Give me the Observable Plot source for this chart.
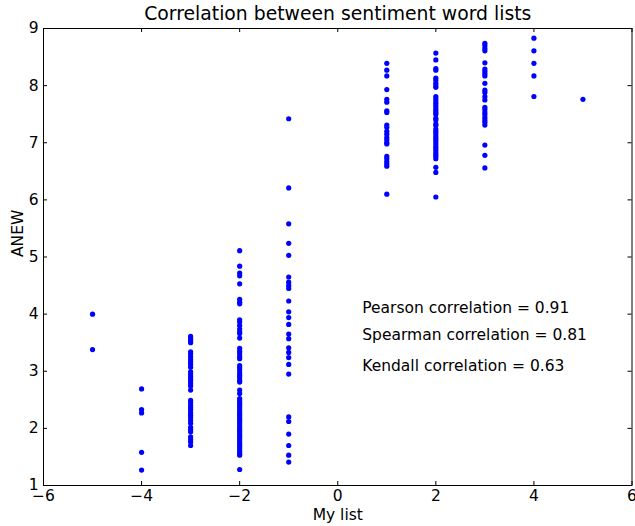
<!DOCTYPE html>
<html>
<head>
<meta charset="utf-8">
<script src="https://cdn.jsdelivr.net/npm/d3@7"></script>
<script src="https://cdn.jsdelivr.net/npm/@observablehq/plot@0.6"></script>
<style>
  html, body { margin: 0; padding: 0; background: #fff; overflow: hidden; }
</style>
</head>
<body>
<div id="chart"></div>
<script>
// ---- Data ----
const chartTitle = "Correlation between sentiment word lists";
const xLabel = "My list";
const yLabel = "ANEW";

const xTicks = [-6, -4, -2, 0, 2, 4, 6];
const yTicks = [1, 2, 3, 4, 5, 6, 7, 8, 9];

// ANEW values for each "My list" score
const anewMinus5 = [4.00, 3.38];
const anewMinus4 = [2.69, 2.33, 2.27, 1.58, 1.27];
const anewMinus3 = [3.61, 3.57, 3.53, 3.50, 3.34, 3.30, 3.25, 3.20, 3.16, 3.12, 3.07,
  2.99, 2.95, 2.91, 2.87, 2.83, 2.78, 2.74, 2.67, 2.49, 2.45, 2.40, 2.36, 2.32,
  2.27, 2.23, 2.19, 2.14, 2.09, 2.02, 1.98, 1.94, 1.85, 1.80, 1.76, 1.70];
const anewMinus2 = [5.11, 4.84, 4.72, 4.67, 4.53, 4.26, 4.21, 4.18, 3.90, 3.86, 3.80,
  3.74, 3.69, 3.66, 3.58, 3.40, 3.35, 3.31, 3.26, 3.22, 3.10, 3.06, 3.02, 2.97,
  2.93, 2.89, 2.84, 2.81, 2.67, 2.61, 2.52, 2.48, 2.44, 2.40, 2.36, 2.32, 2.28,
  2.24, 2.20, 2.16, 2.12, 2.08, 2.04, 2.00, 1.96, 1.92, 1.88, 1.84, 1.80, 1.76,
  1.72, 1.68, 1.64, 1.60, 1.56, 1.53, 1.28];
const anewMinus1 = [7.42, 6.21, 5.58, 5.24, 5.03, 4.65, 4.56, 4.50, 4.45, 4.23, 4.04,
  3.94, 3.82, 3.65, 3.57, 3.41, 3.33, 3.24, 3.12, 2.95, 2.20, 2.12, 1.90, 1.70,
  1.53, 1.41];
const anewPlus1 = [8.39, 8.27, 8.17, 7.93, 7.76, 7.71, 7.56, 7.53, 7.31, 7.27, 7.20,
  7.15, 7.09, 7.05, 7.00, 6.98, 6.76, 6.72, 6.67, 6.63, 6.59, 6.10];
const anewPlus2 = [8.57, 8.45, 8.30, 8.27, 8.13, 8.09, 8.04, 8.00, 7.97, 7.81, 7.77,
  7.73, 7.69, 7.65, 7.61, 7.57, 7.53, 7.50, 7.43, 7.40, 7.33, 7.30, 7.24, 7.20,
  7.16, 7.12, 7.08, 7.04, 7.00, 6.96, 6.92, 6.88, 6.84, 6.80, 6.76, 6.72, 6.57,
  6.48, 6.05];
const anewPlus3 = [8.74, 8.70, 8.65, 8.61, 8.40, 8.29, 8.25, 8.21, 8.17, 8.04, 7.92,
  7.88, 7.81, 7.75, 7.62, 7.58, 7.53, 7.49, 7.44, 7.40, 7.36, 7.31, 6.96, 6.78,
  6.56];
const anewPlus4 = [8.83, 8.61, 8.39, 8.17, 7.81];
const anewPlus5 = [7.76];

const myListScores = [-5, -4, -3, -2, -1, 1, 2, 3, 4, 5];
const anewColumns = [anewMinus5, anewMinus4, anewMinus3, anewMinus2, anewMinus1,
  anewPlus1, anewPlus2, anewPlus3, anewPlus4, anewPlus5];

const annotationLabels = ["Pearson correlation = 0.91",
  "Spearman correlation = 0.81",
  "Kendall correlation = 0.63"];
const annotationX = [0.5, 0.5, 0.5];
const annotationY = [4.10, 3.64, 3.10];

// ---- Build tables ----
const points = myListScores.flatMap((s, i) => anewColumns[i].map(v => ({myList: s, anew: v})));
const annotations = annotationLabels.map((t, i) => ({text: t, x: annotationX[i], y: annotationY[i]}));

const W = 635, H = 526;
const mL = 43, mR = 3.5, mT = 28, mB = 41;
const frameW = W - mL - mR, frameH = H - mT - mB;
const tickLen = 4;
const fs = 15.5;
const minusFmt = d => (d < 0 ? "\u2212" + Math.abs(d) : String(d));

const chart = Plot.plot({
  width: W,
  height: H,
  marginLeft: mL,
  marginRight: mR,
  marginTop: mT,
  marginBottom: mB,
  style: {fontFamily: "'DejaVu Sans', sans-serif", fontSize: fs + "px", color: "black", background: "white"},
  x: {domain: [-6, 6], label: null},
  y: {domain: [1, 9], label: null},
  marks: [
    Plot.dot(points, {x: "myList", y: "anew", r: 2.6, fill: "#0000ff", stroke: "none"}),
    // inward tick marks on all four sides
    Plot.tickX(xTicks, {x: d => d, insetTop: frameH - tickLen, stroke: "black"}),
    Plot.tickX(xTicks, {x: d => d, insetBottom: frameH - tickLen, stroke: "black"}),
    Plot.tickY(yTicks, {y: d => d, insetRight: frameW - tickLen, stroke: "black"}),
    Plot.tickY(yTicks, {y: d => d, insetLeft: frameW - tickLen, stroke: "black"}),
    Plot.axisX(xTicks, {anchor: "bottom", tickSize: 0, tickPadding: 4, label: null, fontSize: fs, tickFormat: minusFmt}),
    Plot.axisY(yTicks, {anchor: "left", tickSize: 0, tickPadding: 5, label: null, fontSize: fs, tickFormat: minusFmt}),
    Plot.frame({stroke: "black", strokeWidth: 1}),
    Plot.text(annotations, {x: "x", y: "y", text: "text", textAnchor: "start", lineAnchor: "middle", fontSize: fs, fill: "black"}),
    Plot.text([chartTitle], {frameAnchor: "top", dy: -15, lineAnchor: "middle", fontSize: 18.8, fill: "black"}),
    Plot.text([xLabel], {frameAnchor: "bottom", dy: 30, lineAnchor: "middle", fontSize: fs, fill: "black"}),
    Plot.text([yLabel], {frameAnchor: "left", dx: -25, rotate: -90, lineAnchor: "middle", fontSize: fs, fill: "black"})
  ]
});
document.getElementById("chart").appendChild(chart);
</script>
</body>
</html>
